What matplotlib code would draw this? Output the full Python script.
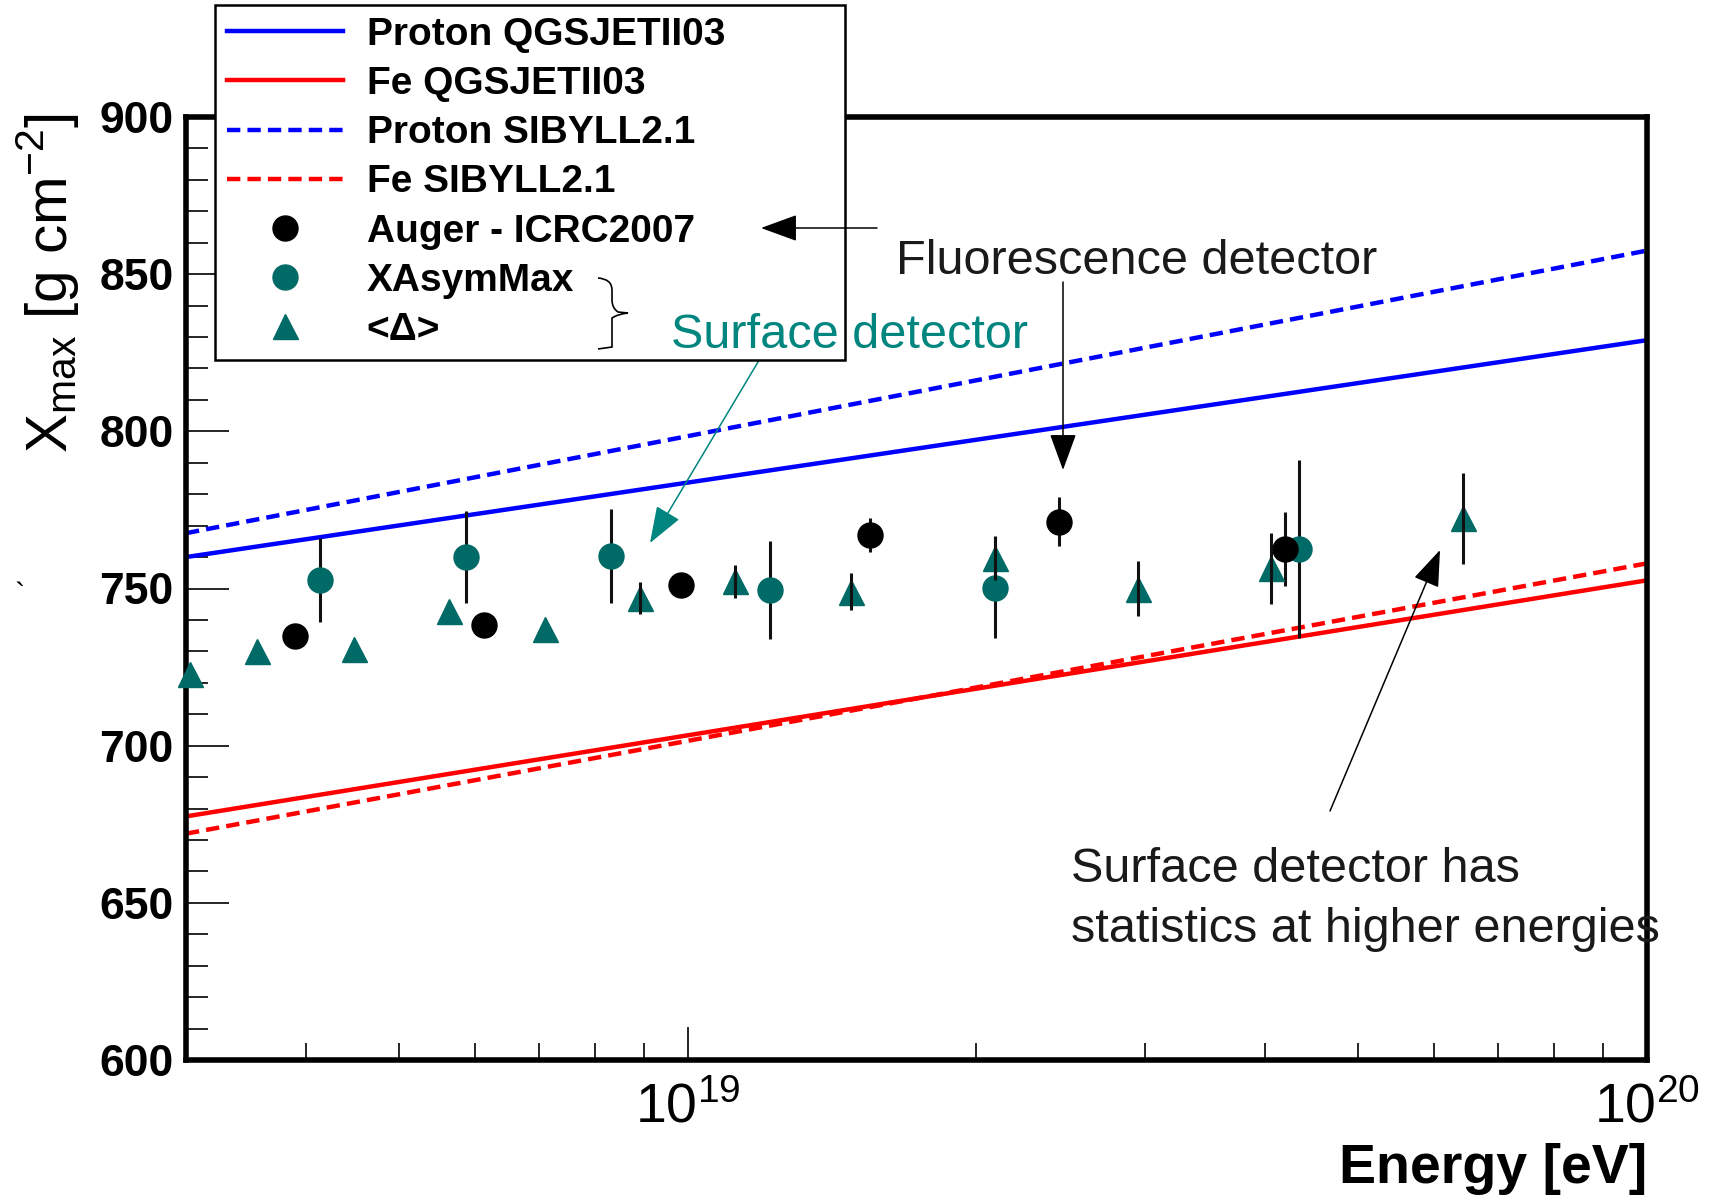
import matplotlib
matplotlib.use("Agg")
import matplotlib.pyplot as plt
from matplotlib.path import Path
from matplotlib.patches import PathPatch
from matplotlib.ticker import FixedLocator, LogLocator, NullFormatter, MultipleLocator

plt.rcParams['font.family'] = ['Liberation Sans', 'DejaVu Sans']

# model predictions, straight lines in log(E) between the axis ends
model_energy = [3e18, 1e20]
proton_qgsjet = [760.0, 829.0]
fe_qgsjet = [677.5, 752.6]
proton_sibyll = [767.6, 857.5]
fe_sibyll = [672.0, 758.0]

# Auger ICRC2007 (fluorescence detector)
auger_energy = [3.90e18, 6.14e18, 9.84e18, 1.55e19, 2.44e19, 4.19e19]
auger_xmax = [735.0, 738.4, 751.0, 767.0, 771.3, 762.5]
auger_err = [3.0, 3.0, 3.0, 5.3, 7.7, 11.7]

# XAsymMax (surface detector)
xasym_energy = [4.14e18, 5.87e18, 8.32e18, 1.22e19, 2.09e19, 4.34e19]
xasym_xmax = [752.7, 759.9, 760.3, 749.5, 750.3, 762.6]
xasym_err = [13.3, 14.6, 15.0, 15.5, 16.2, 28.4]

# <Delta> (surface detector)
delta_energy = [3.03e18, 3.56e18, 4.49e18, 5.64e18, 7.10e18, 8.93e18,
                1.12e19, 1.48e19, 2.09e19, 2.95e19, 4.06e19, 6.43e19]
delta_xmax = [722.7, 730.1, 730.7, 742.9, 737.2, 747.0,
              752.3, 749.0, 759.6, 750.0, 756.4, 772.3]
delta_err = [0.0, 0.0, 0.0, 0.0, 0.0, 5.0, 5.3, 5.8, 7.0, 8.8, 11.4, 14.6]

W, H = 1713, 1202
TEAL = '#006a66'
TEAL_TXT = '#00857f'


def fxy(px, py):
    # pixel position in the picture -> figure fraction
    return (px / W, 1 - py / H)


fig = plt.figure(figsize=(W / 100, H / 100), dpi=100)
ax = fig.add_axes([186 / W, 1 - 1060 / H, (1647 - 186) / W, (1060 - 117) / H])

ax.set_xscale('log')
ax.set_xlim(3e18, 1e20)
ax.set_ylim(600, 900)

dash = (0, (3.0, 1.6))
l1, = ax.plot(model_energy, proton_qgsjet, color='#0000ff', lw=3.2)
l2, = ax.plot(model_energy, fe_qgsjet, color='#ff0000', lw=3.2)
l3, = ax.plot(model_energy, proton_sibyll, color='#0000ff', lw=3.2, linestyle=dash)
l4, = ax.plot(model_energy, fe_sibyll, color='#ff0000', lw=3.2, linestyle=dash)

ax.errorbar(xasym_energy, xasym_xmax, yerr=xasym_err, fmt='none', ecolor='#111111',
            elinewidth=2.2, capsize=0, zorder=3)
m2, = ax.plot(xasym_energy, xasym_xmax, 'o', color=TEAL, ms=18, zorder=4, clip_on=False)
ax.errorbar(auger_energy, auger_xmax, yerr=auger_err, fmt='none', ecolor='#111111',
            elinewidth=2.2, capsize=0, zorder=5)
m1, = ax.plot(auger_energy, auger_xmax, 'o', color='black', ms=18, zorder=6, clip_on=False)
m3, = ax.plot(delta_energy, delta_xmax, '^', color=TEAL, ms=18, zorder=7, clip_on=False)
ax.errorbar(delta_energy, delta_xmax, yerr=delta_err, fmt='none', ecolor='#111111',
            elinewidth=2.2, capsize=0, zorder=8)

# axes styling
for sp in ax.spines.values():
    sp.set_linewidth(4)
ax.xaxis.set_major_locator(FixedLocator([1e19, 1e20]))
ax.xaxis.set_minor_locator(LogLocator(base=10, subs=range(2, 10)))
ax.xaxis.set_minor_formatter(NullFormatter())
ax.set_xticklabels([r'$\mathregular{10^{19}}$', r'$\mathregular{10^{20}}$'], fontsize=40)
ax.yaxis.set_major_locator(MultipleLocator(50))
ax.yaxis.set_minor_locator(MultipleLocator(10))
ax.tick_params(axis='x', which='major', direction='in', length=24, width=1.2, pad=16)
ax.tick_params(axis='x', which='minor', direction='in', length=12, width=1.2)
ax.tick_params(axis='y', which='major', direction='in', length=31, width=1.2, pad=9,
               labelsize=32)
ax.tick_params(axis='y', which='minor', direction='in', length=16, width=1.2)
for lab in ax.get_yticklabels():
    lab.set_fontweight('bold')

fig.text(*fxy(1647, 1169), 'Energy [eV]', ha='right', va='center', fontsize=40,
         fontweight='bold')
fig.text(*fxy(48, 283), r'X$_{\mathregular{max}}$ [g cm$^{\mathregular{-2}}$]',
         rotation=90, ha='center', va='center', fontsize=42)
fig.text(*fxy(20, 597), '`', ha='center', va='center', fontsize=22)

leg = ax.legend([l1, l2, l3, l4, m1, m2, m3],
                ['Proton QGSJETII03', 'Fe QGSJETII03', 'Proton SIBYLL2.1', 'Fe SIBYLL2.1',
                 'Auger - ICRC2007', 'XAsymMax', '<Δ>'],
                loc='upper left',
                bbox_to_anchor=(215 / W, 1 - 5 / H - 0.01, 630 / W, 0.01),
                bbox_transform=fig.transFigure, mode='expand', borderaxespad=0,
                prop={'size': 28, 'weight': 'bold'}, handlelength=3.0,
                handletextpad=0.6, borderpad=0.3, labelspacing=0.34,
                fancybox=False, framealpha=1, edgecolor='black')
leg.get_frame().set_linewidth(1.8)
leg.set_zorder(10)

# brace grouping the two surface detector entries
brace = Path([fxy(598, 278), fxy(612, 279), fxy(612, 290), fxy(612, 300),
              fxy(612, 308), fxy(618, 312), fxy(628, 313),
              fxy(618, 314), fxy(612, 318), fxy(612, 326),
              fxy(612, 336), fxy(612, 347), fxy(598, 349)],
             [Path.MOVETO, Path.CURVE3, Path.CURVE3, Path.LINETO,
              Path.CURVE3, Path.CURVE3, Path.LINETO,
              Path.CURVE3, Path.CURVE3, Path.LINETO,
              Path.CURVE3, Path.CURVE3, Path.LINETO])
fig.patches.append(PathPatch(brace, transform=fig.transFigure, fill=False,
                             lw=1.2, color='black', zorder=12))

arrow = dict(arrowstyle='-|>,head_length=1.15,head_width=0.42', mutation_scale=20,
             lw=1.1, color='black', shrinkA=0, shrinkB=0)
ax.annotate('', xy=fxy(761, 228), xytext=fxy(877, 228), xycoords='figure fraction',
            arrowprops=arrow, zorder=12)
ax.annotate('', xy=fxy(1063, 470), xytext=fxy(1063, 282), xycoords='figure fraction',
            arrowprops=arrow)
ax.annotate('', xy=fxy(1440, 550), xytext=fxy(1330, 811), xycoords='figure fraction',
            arrowprops=arrow)
ax.annotate('', xy=fxy(650, 543), xytext=fxy(761, 357), xycoords='figure fraction',
            arrowprops=dict(arrow, color=TEAL_TXT))

fig.text(*fxy(896, 262), 'Fluorescence detector', ha='left', va='center', fontsize=35,
         color='#1a1a1a')
fig.text(*fxy(671, 335), 'Surface detector', ha='left', va='center', fontsize=35,
         color=TEAL_TXT, zorder=11)
fig.text(*fxy(1071, 869), 'Surface detector has', ha='left', va='center', fontsize=35,
         color='#1a1a1a')
fig.text(*fxy(1071, 929), 'statistics at higher energies', ha='left', va='center',
         fontsize=35, color='#1a1a1a')

fig.savefig('out.png', dpi=100, facecolor='white')
